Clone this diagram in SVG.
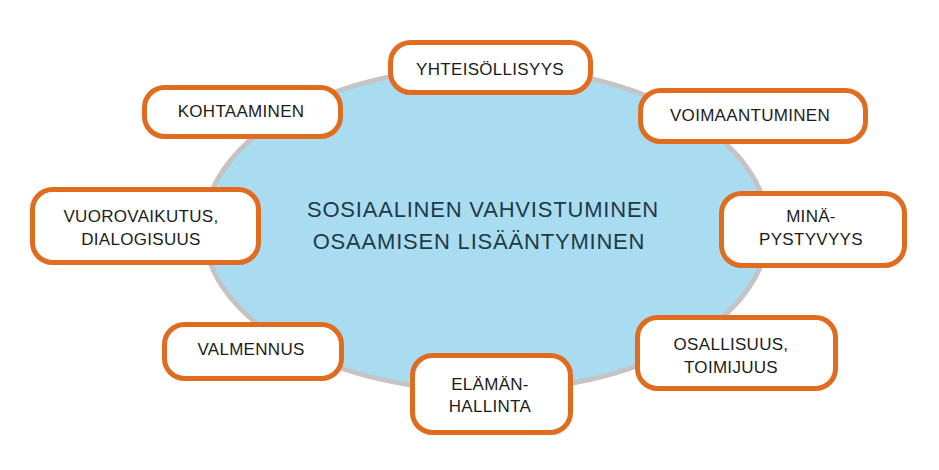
<svg xmlns="http://www.w3.org/2000/svg" width="939" height="470" viewBox="0 0 939 470">
<style>
.box{fill:#ffffff;stroke:#e06c1f;stroke-width:5}
.t{font-family:"Liberation Sans","DejaVu Sans",sans-serif;font-size:17px;fill:#1c1c1c;text-anchor:middle;letter-spacing:0.3px}
.c{font-family:"Liberation Sans","DejaVu Sans",sans-serif;font-size:22px;fill:#1d3a48;text-anchor:middle;letter-spacing:0.8px}
</style>
<rect x="0" y="0" width="939" height="470" fill="#ffffff"/>
<g id="center">
<ellipse cx="486" cy="229" rx="282" ry="162" fill="#a9dcf1" stroke="#c4c4c4" stroke-width="5"/>
<text class="c" x="483" y="217">SOSIAALINEN VAHVISTUMINEN</text>
<text class="c" x="479" y="249">OSAAMISEN LISÄÄNTYMINEN</text>
</g>
<g id="connectors"></g>
<g id="yhteisollisyys">
<rect class="box" x="390.5" y="42.5" width="200" height="50" rx="20"/>
<text class="t" x="490" y="75">YHTEISÖLLISYYS</text>
</g>
<g id="kohtaaminen">
<rect class="box" x="144.5" y="87.5" width="196" height="49" rx="20"/>
<text class="t" x="241" y="117">KOHTAAMINEN</text>
</g>
<g id="voimaantuminen">
<rect class="box" x="640.5" y="90.5" width="225" height="51" rx="20"/>
<text class="t" x="750" y="121">VOIMAANTUMINEN</text>
</g>
<g id="vuorovaikutus">
<rect class="box" x="32.5" y="189.5" width="226" height="73" rx="20"/>
<text class="t" x="141" y="222">VUOROVAIKUTUS,</text>
<text class="t" x="141" y="245">DIALOGISUUS</text>
</g>
<g id="minapystyvyys">
<rect class="box" x="721.5" y="193.5" width="183" height="72" rx="20"/>
<text class="t" x="811" y="222">MINÄ-</text>
<text class="t" x="811" y="245">PYSTYVYYS</text>
</g>
<g id="valmennus">
<rect class="box" x="164.5" y="324.5" width="177" height="54" rx="20"/>
<text class="t" x="251" y="355">VALMENNUS</text>
</g>
<g id="elamanhallinta">
<rect class="box" x="412.5" y="355.5" width="158" height="77" rx="20"/>
<text class="t" x="490" y="390">ELÄMÄN-</text>
<text class="t" x="490" y="412">HALLINTA</text>
</g>
<g id="osallisuus">
<rect class="box" x="637.5" y="317.5" width="198" height="71" rx="20"/>
<text class="t" x="731" y="350">OSALLISUUS,</text>
<text class="t" x="731" y="373">TOIMIJUUS</text>
</g>
</svg>
